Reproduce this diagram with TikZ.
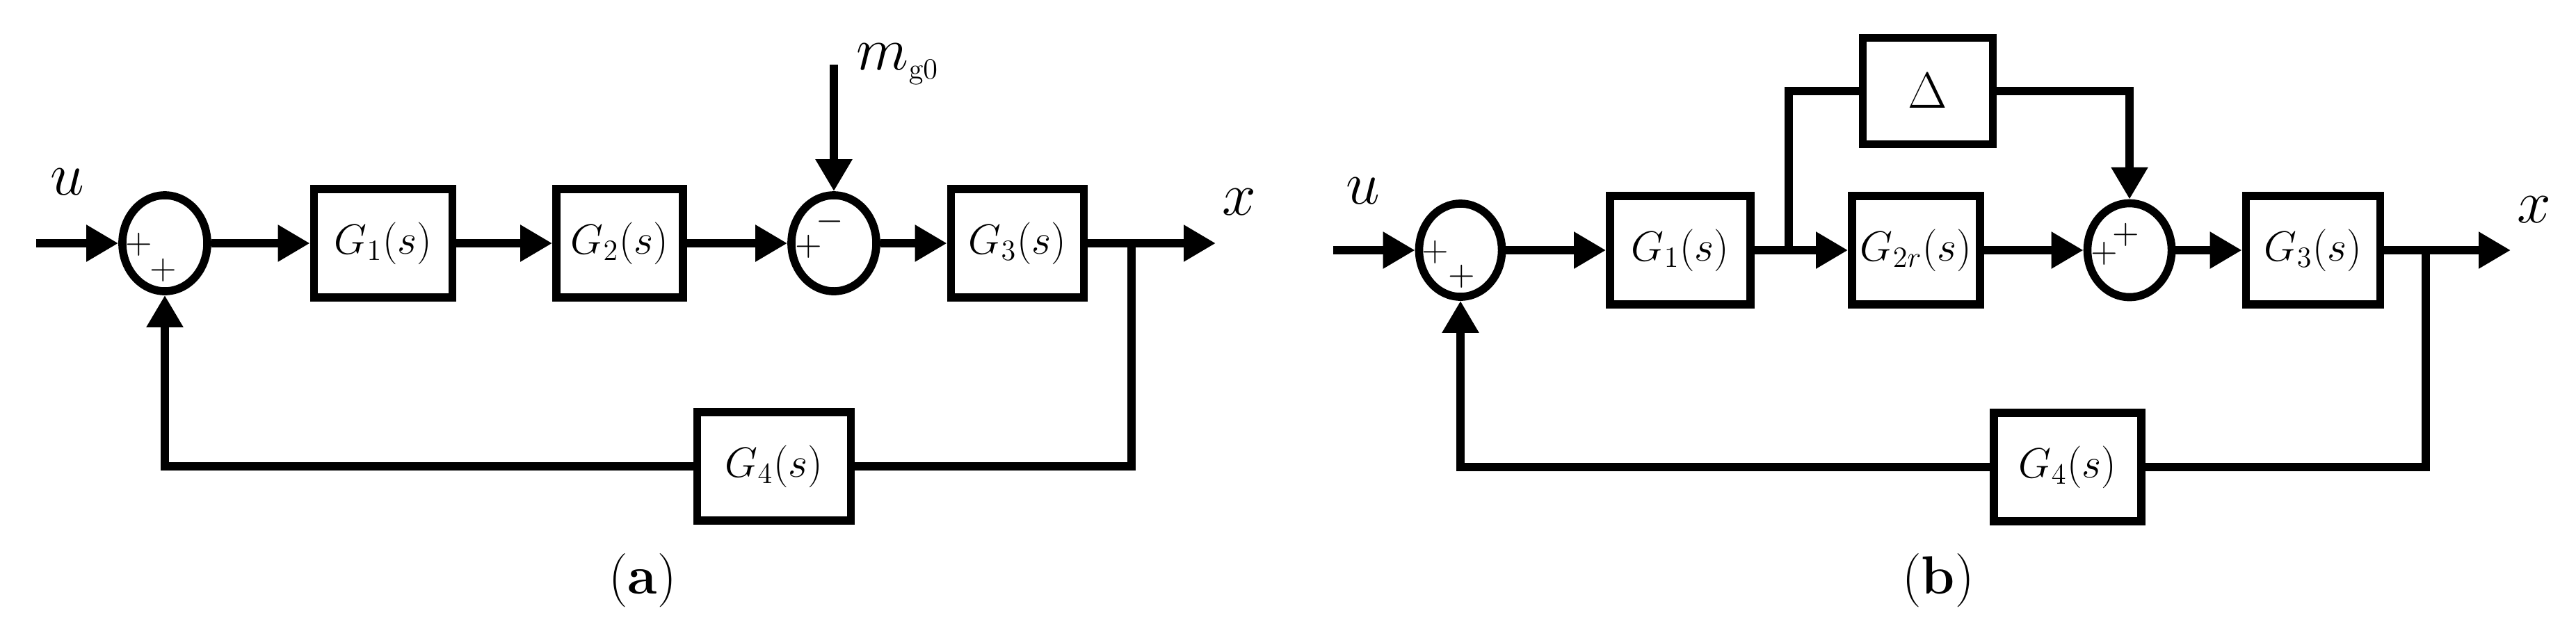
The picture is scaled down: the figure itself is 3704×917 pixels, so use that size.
\documentclass[tikz,border=0pt]{standalone}
\usetikzlibrary{arrows.meta,calc,shapes.geometric}

\def\rowA{350}
\def\rowB{360}
\tikzset{
  diagram/.style={
    x=0.01cm,y=-0.01cm,line width=3.3pt,
    >={Triangle[length=0.46cm,width=0.5cm]}
  },
  block/.style={draw,rectangle,inner sep=0pt,minimum height=1.56cm,
    font=\fontsize{17}{20}\selectfont},
  sumnode/.style={draw,ellipse,inner sep=0pt,minimum width=1.22cm,minimum height=1.38cm},
  sign/.style={inner sep=0pt,font=\fontsize{15}{15}\selectfont},
  signal/.style={inner sep=0pt,font=\fontsize{26}{28}\selectfont},
  caption/.style={inner sep=0pt,font=\fontsize{22}{26}\selectfont}
}

\begin{document}
\begin{tikzpicture}[diagram]
    \useasboundingbox (0,0) rectangle (3704,917);

    % (a)
    \begin{scope}
      \node[sumnode] (s1a) at (237,\rowA) {};
      \node[block,minimum width=1.99cm] (g1a) at (551,\rowA) {$G_1(s)$};
      \node[block,minimum width=1.82cm] (g2a) at (891,\rowA) {$G_2(s)$};
      \node[sumnode] (s2a) at (1199,\rowA) {};
      \node[block,minimum width=1.91cm] (g3a) at (1463,\rowA) {$G_3(s)$};
      \node[block,minimum width=2.21cm] (g4a) at (1113,671) {$G_4(s)$};
      \coordinate (ina) at (52,\rowA);
      \coordinate (outa) at (1748,\rowA);
      \coordinate (taka) at (1627,\rowA);
      \coordinate (mga) at (1199,93);

      \node[signal] (ua) at (97,262) {$u$};
      \node[signal] (xa) at (1782,291) {$x$};
      \node[signal,anchor=west,font=\fontsize{23}{25}\selectfont] (mlbl) at (1226,92)
        {$m_{\scriptscriptstyle\mathrm{g0}}$};

      \node[sign] (p1a) at ($(s1a)+(-37,2)$) {$+$};
      \node[sign] (p2a) at ($(s1a)+(-2,39)$) {$+$};
      \node[sign] (m3a) at ($(s2a)+(-6,-31)$) {$-$};
      \node[sign] (p4a) at ($(s2a)+(-36,5)$) {$+$};

      \draw[->] (ina) -- (s1a);
      \draw[->] (s1a) -- (g1a);
      \draw[->] (g1a) -- (g2a);
      \draw[->] (g2a) -- (s2a);
      \draw[->] (mga) -- (s2a);
      \draw[->] (s2a) -- (g3a);
      \draw[->] (g3a) -- (outa);
      \draw (taka) |- (g4a);
      \draw[->] (g4a) -| (s1a);

      \node[caption] (capa) at (924,835) {(\textbf{a})};
    \end{scope}

    % (b)
    \begin{scope}
      \node[sumnode,minimum width=1.19cm,minimum height=1.34cm] (s1b) at (2100,\rowB) {};
      \node[block,minimum width=2.02cm] (g1b) at (2416,\rowB) {$G_1(s)$};
      \node[block,minimum width=1.87cm,minimum height=1.53cm,
        font=\fontsize{22}{24}\selectfont] (dlt) at (2772,131) {$\Delta$};
      \node[block,minimum width=1.84cm] (g2b) at (2755,\rowB) {$G_{2r}(s)$};
      \node[sumnode,minimum width=1.21cm,minimum height=1.35cm] (s2b) at (3062,\rowB) {};
      \node[block,minimum width=1.93cm] (g3b) at (3326,\rowB) {$G_3(s)$};
      \node[block,minimum width=2.12cm] (g4b) at (2973,672) {$G_4(s)$};
      \coordinate (inb) at (1917,\rowB);
      \coordinate (outb) at (3610,\rowB);
      \coordinate (takb) at (3488,\rowB);
      \coordinate (splitb) at (2572,\rowB);

      \node[signal] (ub) at (1960,275) {$u$};
      \node[signal] (xb) at (3644,302) {$x$};

      \node[sign] (p1b) at ($(s1b)+(-36,3)$) {$+$};
      \node[sign] (p2b) at ($(s1b)+(2,38)$) {$+$};
      \node[sign] (p3b) at ($(s2b)+(-5,-22)$) {$+$};
      \node[sign] (p4b) at ($(s2b)+(-36,5)$) {$+$};

      \draw[->] (inb) -- (s1b);
      \draw[->] (s1b) -- (g1b);
      \draw (g1b) -- (splitb);
      \draw[->] (splitb) -- (g2b);
      \draw (splitb) |- (dlt);
      \draw[->] (dlt) -| (s2b);
      \draw[->] (g2b) -- (s2b);
      \draw[->] (s2b) -- (g3b);
      \draw[->] (g3b) -- (outb);
      \draw (takb) |- (g4b);
      \draw[->] (g4b) -| (s1b);

      \node[caption] (capb) at (2787,835) {(\textbf{b})};
    \end{scope}
\end{tikzpicture}
\end{document}
